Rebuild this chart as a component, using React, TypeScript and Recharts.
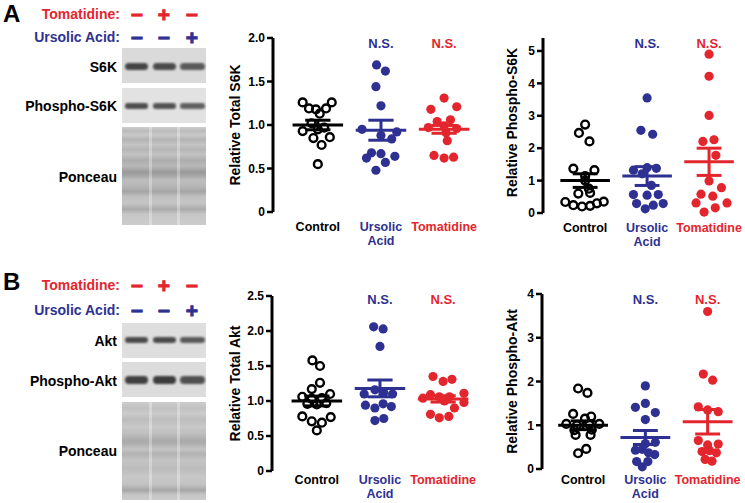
import React from "react"
import {
  ReferenceDot,
  ReferenceLine,
  Scatter,
  ScatterChart,
  XAxis,
  YAxis,
} from "recharts"

const BLUE = "#2E3192"
const RED = "#E3262D"
const FONT = "'Liberation Sans', Arial, Helvetica, sans-serif"

const categoryLines = [["Control"], ["Ursolic", "Acid"], ["Tomatidine"]]
const categoryColors = ["#000000", BLUE, RED]

// A — relative total S6K
const s6kControl = [1.26, 1.26, 1.19, 1.18, 1.19, 1.13, 1.02, 0.97, 0.93, 0.95, 0.86, 0.85, 0.77, 0.55]
const s6kControlJitter = [-0.24, 0.22, -0.14, -0.03, 0.13, 0.03, -0.1, 0.1, -0.24, 0, 0.19, -0.07, 0.06, 0]
const s6kUrsolic = [1.69, 1.62, 1.44, 1.22, 0.95, 0.88, 0.92, 0.84, 0.68, 0.62, 0.67, 0.64, 0.57, 0.48]
const s6kUrsolicJitter = [-0.07, 0.07, -0.08, 0, -0.3, 0, 0.25, 0.17, -0.15, -0.23, 0, 0.22, 0.07, -0.08]
const s6kTomatidine = [1.31, 1.18, 1.21, 1.04, 1.06, 0.97, 0.99, 0.96, 0.91, 0.82, 0.65, 0.62, 0.63]
const s6kTomatidineJitter = [0, -0.21, 0.2, -0.11, 0.1, -0.25, 0, 0.2, 0.03, 0.05, -0.16, 0, 0.15]
const s6kMean = [1.0, 0.94, 0.95]
const s6kSem = [0.055, 0.115, 0.045]

// A — relative phospho-S6K
const pS6kControl = [2.73, 2.47, 2.21, 1.37, 1.32, 1.14, 1.0, 0.75, 0.6, 0.62, 0.34, 0.24, 0.2, 0.22, 0.3, 0.35]
const pS6kControlJitter = [0, -0.1, 0.07, -0.19, 0.15, 0, 0, 0.06, -0.11, 0.08, -0.32, -0.19, -0.05, 0.08, 0.19, 0.3]
const pS6kUrsolic = [3.55, 2.55, 2.43, 1.32, 1.4, 1.38, 1.21, 0.85, 0.57, 0.55, 0.57, 0.29, 0.13, 0.24, 0.29]
const pS6kUrsolicJitter = [0, -0.1, 0.09, -0.22, 0, 0.15, -0.08, 0.07, -0.22, 0, 0.18, -0.17, -0.03, 0.1, 0.26]
const pS6kTomatidine = [4.9, 4.22, 3.01, 2.21, 2.26, 1.78, 0.99, 0.78, 0.58, 0.52, 0.31, 0.31, 0.16, 0.03]
const pS6kTomatidineJitter = [0, 0, 0, -0.1, 0.08, 0.11, 0, 0.2, -0.13, 0.06, -0.21, 0.29, 0.1, -0.08]
const pS6kMean = [1.0, 1.14, 1.58]
const pS6kSem = [0.21, 0.29, 0.42]

// B — relative total Akt
const aktControl = [1.58, 1.5, 1.26, 1.17, 1.1, 1.06, 1.03, 1.04, 0.95, 0.96, 0.97, 0.78, 0.77, 0.71, 0.69, 0.58]
const aktControlJitter = [-0.07, 0.05, 0.05, -0.08, 0.21, -0.23, -0.08, 0.08, 0, -0.15, 0.15, -0.23, 0.22, -0.08, 0.08, 0]
const aktUrsolic = [2.06, 2.03, 1.78, 1.1, 1.16, 1.12, 1.1, 0.94, 0.9, 0.96, 0.92, 0.72, 0.75]
const aktUrsolicJitter = [-0.1, 0.05, 0, -0.25, -0.08, 0.06, 0.2, -0.23, -0.08, 0.05, 0.18, -0.08, 0.06]
const aktTomatidine = [1.35, 1.28, 1.31, 1.04, 1.09, 1.06, 1.06, 1.11, 0.98, 1.0, 0.9, 0.81, 0.76, 0.78]
const aktTomatidineJitter = [-0.16, 0, 0.14, -0.32, -0.2, -0.06, 0.1, 0.33, 0.33, 0.02, 0.18, -0.2, -0.06, 0.09]
const aktMean = [1.0, 1.18, 1.03]
const aktSem = [0.07, 0.12, 0.045]

// B — relative phospho-Akt
const pAktControl = [1.84, 1.74, 1.26, 1.2, 1.15, 1.03, 1.0, 1.02, 1.03, 0.89, 0.9, 0.78, 0.78, 0.46, 0.36]
const pAktControlJitter = [-0.08, 0.07, -0.16, 0.13, 0.03, -0.27, -0.1, 0.1, 0.26, -0.14, 0.14, -0.12, 0.12, 0.05, -0.08]
const pAktUrsolic = [1.9, 1.5, 1.41, 1.29, 1.13, 0.61, 0.58, 0.43, 0.45, 0.33, 0.37, 0.17, 0.17, 0.05]
const pAktUrsolicJitter = [0, 0, -0.16, 0.16, 0, 0.16, 0, -0.16, -0.05, 0.15, 0.05, -0.14, 0.04, -0.05]
const pAktTomatidine = [3.6, 2.17, 2.03, 1.42, 1.35, 1.31, 0.65, 0.55, 0.57, 0.4, 0.42, 0.37, 0.22, 0.18]
const pAktTomatidineJitter = [0, -0.07, 0.08, -0.15, 0, 0.17, -0.15, 0, 0.17, -0.09, 0.03, 0.14, -0.04, 0.07]
const pAktMean = [1.0, 0.72, 1.08]
const pAktSem = [0.1, 0.16, 0.28]

const toPoints = (values: number[], jitter: number[], group: number) =>
  values.map((v, i) => ({ x: group + 1 + jitter[i], y: v }))

const CatTick = ({ x, y, payload, gap }: any) => {
  const i = Math.round(payload.value) - 1
  return (
    <text
      x={x}
      y={y + gap + 4.5}
      textAnchor="middle"
      fill={categoryColors[i]}
      fontSize={12.5}
      fontWeight={700}
      fontFamily={FONT}
    >
      {categoryLines[i].map((line, k) => (
        <tspan key={k} x={x} dy={k === 0 ? 0 : 14}>
          {line}
        </tspan>
      ))}
    </text>
  )
}

const YLab = ({ viewBox, text, lx, dy }: any) => {
  const cx = viewBox.x + lx
  const cy = viewBox.y + viewBox.height / 2 + dy
  return (
    <text
      x={cx}
      y={cy}
      transform={`rotate(-90 ${cx} ${cy})`}
      textAnchor="middle"
      dominantBaseline="central"
      fontSize={14}
      fontWeight={700}
      fontFamily={FONT}
      fill="#000"
    >
      {text}
    </text>
  )
}

const NS = ({ viewBox, fill, dy }: any) => (
  <text
    x={viewBox.x + viewBox.width / 2}
    y={viewBox.y + dy}
    textAnchor="middle"
    dominantBaseline="central"
    fill={fill}
    fontSize={13}
    fontWeight={700}
    fontFamily={FONT}
  >
    N.S.
  </text>
)

const openDot = (p: any) => (
  <circle cx={p.cx} cy={p.cy} r={3.9} fill="none" stroke="#000" strokeWidth={2.4} />
)
const filledDot = (color: string) => (p: any) => (
  <circle cx={p.cx} cy={p.cy} r={4.6} fill={color} />
)

interface PanelProps {
  left: number
  top: number
  axisW: number
  plotW: number
  plotH: number
  xDomain: [number, number]
  yMax: number
  yTicks: number[]
  decimals: number
  label: string
  labelX: number
  labelDy: number
  catGap: number
  nsGap: number
  groups: { x: number; y: number }[][]
  means: number[]
  sems: number[]
}

function Panel(p: PanelProps) {
  const colors = ["#000000", BLUE, RED]
  const fmt = (v: number) => (v === 0 ? "0" : v.toFixed(p.decimals))
  return (
    <div style={{ position: "absolute", left: p.left, top: p.top }}>
      <ScatterChart
        width={p.axisW + p.plotW}
        height={10 + p.plotH + 40}
        margin={{ top: 10, right: 0, bottom: 0, left: 0 }}
      >
        <XAxis
          type="number"
          dataKey="x"
          domain={p.xDomain}
          ticks={[1, 2, 3]}
          interval={0}
          height={40}
          axisLine={false}
          tickLine={false}
          tickSize={0}
          tickMargin={0}
          tick={<CatTick gap={p.catGap} />}
        />
        <YAxis
          type="number"
          dataKey="y"
          domain={[0, p.yMax]}
          ticks={p.yTicks}
          interval={0}
          width={p.axisW}
          axisLine={{ stroke: "#000", strokeWidth: 3 }}
          tickLine={{ stroke: "#000", strokeWidth: 2.5 }}
          tickSize={6}
          tickMargin={2}
          tickFormatter={fmt}
          tick={{ fill: "#000", fontSize: 12, fontWeight: 700, fontFamily: FONT }}
          label={<YLab text={p.label} lx={p.labelX} dy={p.labelDy} />}
        />
        {p.groups.map((pts, g) => (
          <Scatter
            key={g}
            data={pts}
            isAnimationActive={false}
            shape={g === 0 ? openDot : filledDot(colors[g])}
          />
        ))}
        {p.means.map((m, g) => (
          <ReferenceLine
            key={`m${g}`}
            segment={[
              { x: g + 0.6, y: m },
              { x: g + 1.4, y: m },
            ]}
            stroke={colors[g]}
            strokeWidth={3}
          />
        ))}
        {p.means.map((m, g) => (
          <ReferenceLine
            key={`e${g}`}
            segment={[
              { x: g + 1, y: m - p.sems[g] },
              { x: g + 1, y: m + p.sems[g] },
            ]}
            stroke={colors[g]}
            strokeWidth={3}
          />
        ))}
        {p.means.map((m, g) => (
          <ReferenceLine
            key={`u${g}`}
            segment={[
              { x: g + 0.8, y: m + p.sems[g] },
              { x: g + 1.2, y: m + p.sems[g] },
            ]}
            stroke={colors[g]}
            strokeWidth={3}
          />
        ))}
        {p.means.map((m, g) => (
          <ReferenceLine
            key={`l${g}`}
            segment={[
              { x: g + 0.8, y: m - p.sems[g] },
              { x: g + 1.2, y: m - p.sems[g] },
            ]}
            stroke={colors[g]}
            strokeWidth={3}
          />
        ))}
        <ReferenceDot x={2} y={p.yMax} r={0} fill="none" stroke="none" label={<NS fill={BLUE} dy={p.nsGap} />} />
        <ReferenceDot x={3} y={p.yMax} r={0} fill="none" stroke="none" label={<NS fill={RED} dy={p.nsGap} />} />
      </ScatterChart>
    </div>
  )
}

// blot drawing helpers (decorative image stand-ins)
const BLOT_LEFT = 122
const BLOT_W = 84
const lanes = [
  [125, 148],
  [153, 176],
  [180, 205],
]

function Strip({ top, height, bg, bandY, bandH, shades }: any) {
  return (
    <div style={{ position: "absolute", left: BLOT_LEFT, top, width: BLOT_W, height, background: bg }}>
      {lanes.map(([a, b], i) => (
        <div
          key={i}
          style={{
            position: "absolute",
            left: a - BLOT_LEFT,
            width: b - a,
            top: bandY - top - bandH / 2,
            height: bandH,
            background: shades[i],
            borderRadius: bandH / 2,
            filter: "blur(0.8px)",
          }}
        />
      ))}
    </div>
  )
}

function Ponceau({ top, height, gradient }: any) {
  return (
    <div style={{ position: "absolute", left: BLOT_LEFT, top, width: BLOT_W, height, background: gradient }}>
      {[149, 177].map((x) => (
        <div
          key={x}
          style={{
            position: "absolute",
            left: x - BLOT_LEFT,
            top: 0,
            width: 3,
            height: "100%",
            background: "rgba(255,255,255,0.3)",
          }}
        />
      ))}
    </div>
  )
}

const ponceauA =
  "linear-gradient(#cfcfcf 0%, #bababa 4%, #c9c9c9 8%, #b4b4b4 13%, #c4c4c4 18%, #b6b6b6 23%, #c2c2c2 28%, #adadad 34%, #b8b8b8 40%, #999999 46%, #a2a2a2 49%, #bdbdbd 54%, #b7b7b7 60%, #a5a5a5 66%, #c0c0c0 71%, #c4c4c4 78%, #ababab 84%, #c6c6c6 89%, #cccccc 100%)"
const ponceauB =
  "linear-gradient(#cdcdcd 0%, #c1c1c1 6%, #cacaca 12%, #bdbdbd 18%, #c8c8c8 25%, #bfbfbf 32%, #a9a9a9 40%, #b0b0b0 43%, #c3c3c3 48%, #b3b3b3 53%, #c4c4c4 60%, #bcbcbc 68%, #c7c7c7 76%, #c3c3c3 84%, #a7a7a7 90%, #c6c6c6 95%, #cbcbcb 100%)"

const Txt = ({ right, y, color, size = 14, children }: any) => (
  <div
    style={{
      position: "absolute",
      right: 745 - right,
      top: y,
      transform: "translateY(-50%)",
      color,
      fontSize: size,
      fontWeight: 700,
      fontFamily: FONT,
      lineHeight: 1,
      whiteSpace: "nowrap",
    }}
  >
    {children}
  </div>
)

const signCols = [137, 164, 192]

const Signs = ({ y, signs, color }: any) => (
  <>
    {signs.map((s: string, i: number) => (
      <div
        key={i}
        style={{
          position: "absolute",
          left: signCols[i],
          top: y,
          transform: "translate(-50%, -50%)",
          color,
          fontSize: 21,
          fontWeight: 700,
          fontFamily: FONT,
          lineHeight: 1,
          WebkitTextStroke: `0.9px ${color}`,
        }}
      >
        {s}
      </div>
    ))}
  </>
)

export default function App() {
  return (
    <div
      style={{
        position: "absolute",
        left: 0,
        top: 0,
        width: 745,
        height: 503,
        overflow: "hidden",
        background: "#fff",
        fontFamily: FONT,
      }}
    >
      {/* panel A blots */}
      <div style={{ position: "absolute", left: 3, top: 2, fontSize: 24, fontWeight: 700, lineHeight: 1 }}>A</div>
      <Txt right={120} y={14} color={RED}>Tomatidine:</Txt>
      <Txt right={120} y={37} color={BLUE}>Ursolic Acid:</Txt>
      <Signs y={14} signs={["−", "+", "−"]} color={RED} />
      <Signs y={37} signs={["−", "−", "+"]} color={BLUE} />
      <Strip top={48} height={35} bg="#dadada" bandY={66} bandH={7} shades={["#444", "#4a4a4a", "#5a5a5a"]} />
      <Strip top={88} height={35} bg="#e2e2e2" bandY={106} bandH={5.5} shades={["#4d4d4d", "#525252", "#606060"]} />
      <Ponceau top={127} height={98} gradient={ponceauA} />
      <Txt right={117} y={67} color="#000">S6K</Txt>
      <Txt right={117} y={106} color="#000">Phospho-S6K</Txt>
      <Txt right={117} y={177} color="#000">Ponceau</Txt>

      {/* panel B blots */}
      <div style={{ position: "absolute", left: 3, top: 270, fontSize: 24, fontWeight: 700, lineHeight: 1 }}>B</div>
      <Txt right={120} y={285} color={RED}>Tomatidine:</Txt>
      <Txt right={120} y={310} color={BLUE}>Ursolic Acid:</Txt>
      <Signs y={285} signs={["−", "+", "−"]} color={RED} />
      <Signs y={310} signs={["−", "−", "+"]} color={BLUE} />
      <Strip top={323} height={35} bg="#dedede" bandY={340} bandH={6} shades={["#4a4a4a", "#4a4a4a", "#5a5a5a"]} />
      <Strip top={362} height={35} bg="#dcdcdc" bandY={380} bandH={7.5} shades={["#404040", "#3c3c3c", "#505050"]} />
      <Ponceau top={402} height={98} gradient={ponceauB} />
      <Txt right={117} y={341} color="#000">Akt</Txt>
      <Txt right={117} y={381} color="#000">Phospho-Akt</Txt>
      <Txt right={117} y={451} color="#000">Ponceau</Txt>

      <Panel
        left={211}
        top={28}
        axisW={62}
        plotW={209}
        plotH={174}
        xDomain={[0.29, 3.6]}
        yMax={2}
        yTicks={[0, 0.5, 1, 1.5, 2]}
        decimals={1}
        label="Relative Total S6K"
        labelX={24}
        labelDy={0}
        catGap={14.5}
        nsGap={5}
        groups={[
          toPoints(s6kControl, s6kControlJitter, 0),
          toPoints(s6kUrsolic, s6kUrsolicJitter, 1),
          toPoints(s6kTomatidine, s6kTomatidineJitter, 2),
        ]}
        means={s6kMean}
        sems={s6kSem}
      />
      <Panel
        left={483}
        top={28}
        axisW={60}
        plotW={202}
        plotH={175}
        xDomain={[0.32, 3.58]}
        yMax={5.4}
        yTicks={[0, 1, 2, 3, 4, 5]}
        decimals={0}
        label="Relative Phospho-S6K"
        labelX={29}
        labelDy={-3}
        catGap={14}
        nsGap={5}
        groups={[
          toPoints(pS6kControl, pS6kControlJitter, 0),
          toPoints(pS6kUrsolic, pS6kUrsolicJitter, 1),
          toPoints(pS6kTomatidine, pS6kTomatidineJitter, 2),
        ]}
        means={pS6kMean}
        sems={pS6kSem}
      />
      <Panel
        left={210}
        top={286}
        axisW={62}
        plotW={209}
        plotH={175}
        xDomain={[0.29, 3.6]}
        yMax={2.5}
        yTicks={[0, 0.5, 1, 1.5, 2, 2.5]}
        decimals={1}
        label="Relative Total Akt"
        labelX={25}
        labelDy={0}
        catGap={8.5}
        nsGap={3.5}
        groups={[
          toPoints(aktControl, aktControlJitter, 0),
          toPoints(aktUrsolic, aktUrsolicJitter, 1),
          toPoints(aktTomatidine, aktTomatidineJitter, 2),
        ]}
        means={aktMean}
        sems={aktSem}
      />
      <Panel
        left={482}
        top={284}
        axisW={60}
        plotW={203}
        plotH={175}
        xDomain={[0.34, 3.6]}
        yMax={4}
        yTicks={[0, 1, 2, 3, 4]}
        decimals={0}
        label="Relative Phospho-Akt"
        labelX={30}
        labelDy={0}
        catGap={10}
        nsGap={5}
        groups={[
          toPoints(pAktControl, pAktControlJitter, 0),
          toPoints(pAktUrsolic, pAktUrsolicJitter, 1),
          toPoints(pAktTomatidine, pAktTomatidineJitter, 2),
        ]}
        means={pAktMean}
        sems={pAktSem}
      />
    </div>
  )
}
